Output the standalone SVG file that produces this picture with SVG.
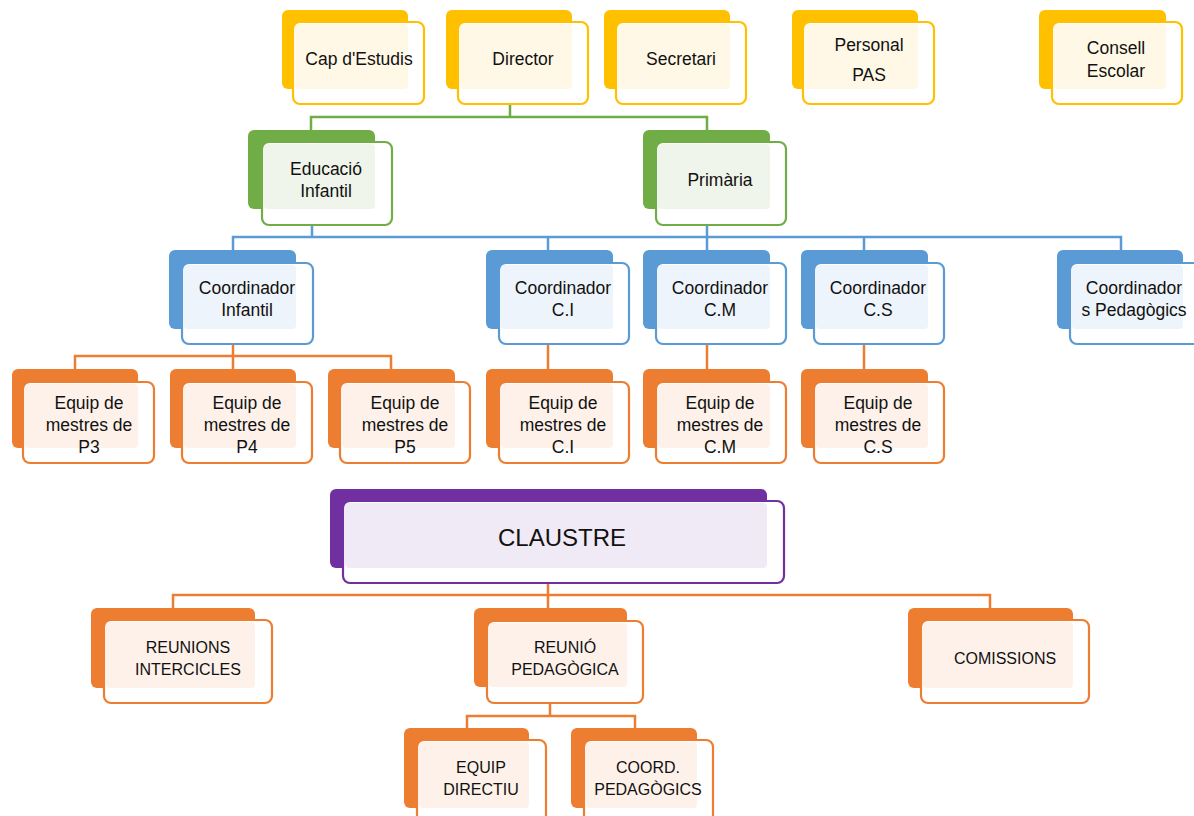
<svg xmlns="http://www.w3.org/2000/svg" width="1194" height="816" viewBox="0 0 1194 816">
<style>
text{font-family:"Liberation Sans",Arial,sans-serif;font-size:17.5px;fill:#111;text-anchor:middle}
.up{font-size:16px}
.big{font-size:24px}
.fr{fill:#fff;stroke-width:2.2}
.y .bk{fill:#FFC000}.y .fr{stroke:#FFC000}.y .tn{fill:#FFF8E6}
.g .bk{fill:#70AD47}.g .fr{stroke:#70AD47}.g .tn{fill:#EFF5EA}
.b .bk{fill:#5B9BD5}.b .fr{stroke:#5B9BD5}.b .tn{fill:#EEF4FB}
.o .bk{fill:#ED7D31}.o .fr{stroke:#ED7D31}.o .tn{fill:#FDF1EA}
.p .bk{fill:#7030A0}.p .fr{stroke:#7030A0}.p .tn{fill:#F0EAF6}
.cg{stroke:#70AD47}.cb{stroke:#5B9BD5}.co{stroke:#ED7D31}
#connectors path{fill:none;stroke-width:2.5}
</style>
<rect width="1194" height="816" fill="#fff"/>
<g id="connectors">
<path class="cg" d="M510 104V117M311 130V117H707V130"/>
<path class="cb" d="M312 225V237M707 225V237M233 250V237H1121V250M548 237V250M707 237V250M864 237V250"/>
<path class="co" d="M233 344V356M75 369V356H391V369M233 356V369M548 344V369M707 344V369M864 344V369"/>
<path class="co" d="M548 583V595M173 608V595H990V608M548 595V608"/>
<path class="co" d="M550 703V716M467 728V716H635V728"/>
</g>
<g id="n-cap" class="y"><rect class="bk" x="282" y="10" width="126" height="79" rx="6"/><rect class="fr" x="293" y="22" width="131" height="82" rx="7"/><rect class="tn" x="295" y="24" width="113" height="65" rx="4"/><text x="359" y="65">Cap d'Estudis</text></g>
<g id="n-director" class="y"><rect class="bk" x="446" y="10" width="126" height="79" rx="6"/><rect class="fr" x="458" y="22" width="130" height="82" rx="7"/><rect class="tn" x="460" y="24" width="112" height="65" rx="4"/><text x="523" y="65">Director</text></g>
<g id="n-secretari" class="y"><rect class="bk" x="604" y="10" width="126" height="79" rx="6"/><rect class="fr" x="616" y="22" width="130" height="82" rx="7"/><rect class="tn" x="618" y="24" width="112" height="65" rx="4"/><text x="681" y="65">Secretari</text></g>
<g id="n-pas" class="y"><rect class="bk" x="792" y="10" width="126" height="79" rx="6"/><rect class="fr" x="803" y="22" width="131" height="82" rx="7"/><rect class="tn" x="805" y="24" width="113" height="65" rx="4"/><text x="869" y="51">Personal</text><text x="869" y="81">PAS</text></g>
<g id="n-consell" class="y"><rect class="bk" x="1039" y="10" width="127" height="79" rx="6"/><rect class="fr" x="1052" y="22" width="130" height="82" rx="7"/><rect class="tn" x="1054" y="24" width="112" height="65" rx="4"/><text x="1116" y="54">Consell</text><text x="1116" y="77">Escolar</text></g>
<g id="n-infantil" class="g"><rect class="bk" x="248" y="130" width="127" height="79" rx="6"/><rect class="fr" x="262" y="142" width="130" height="83" rx="7"/><rect class="tn" x="264" y="144" width="111" height="65" rx="4"/><text x="326" y="175">Educació</text><text x="326" y="197">Infantil</text></g>
<g id="n-primaria" class="g"><rect class="bk" x="643" y="130" width="127" height="79" rx="6"/><rect class="fr" x="656" y="142" width="130" height="83" rx="7"/><rect class="tn" x="658" y="144" width="112" height="65" rx="4"/><text x="720" y="186">Primària</text></g>
<g id="n-coord-inf" class="b"><rect class="bk" x="169" y="250" width="127" height="79" rx="6"/><rect class="fr" x="182" y="263" width="131" height="81" rx="7"/><rect class="tn" x="184" y="265" width="112" height="64" rx="4"/><text x="247" y="294">Coordinador</text><text x="247" y="316">Infantil</text></g>
<g id="n-coord-ci" class="b"><rect class="bk" x="486" y="250" width="127" height="79" rx="6"/><rect class="fr" x="499" y="263" width="130" height="81" rx="7"/><rect class="tn" x="501" y="265" width="112" height="64" rx="4"/><text x="563" y="294">Coordinador</text><text x="563" y="316">C.I</text></g>
<g id="n-coord-cm" class="b"><rect class="bk" x="643" y="250" width="127" height="79" rx="6"/><rect class="fr" x="656" y="263" width="130" height="81" rx="7"/><rect class="tn" x="658" y="265" width="112" height="64" rx="4"/><text x="720" y="294">Coordinador</text><text x="720" y="316">C.M</text></g>
<g id="n-coord-cs" class="b"><rect class="bk" x="801" y="250" width="127" height="79" rx="6"/><rect class="fr" x="814" y="263" width="130" height="81" rx="7"/><rect class="tn" x="816" y="265" width="112" height="64" rx="4"/><text x="878" y="294">Coordinador</text><text x="878" y="316">C.S</text></g>
<g id="n-coord-ped" class="b"><rect class="bk" x="1057" y="250" width="126" height="79" rx="6"/><rect class="fr" x="1070" y="263" width="131" height="81" rx="7"/><rect class="tn" x="1072" y="265" width="111" height="64" rx="4"/><text x="1134" y="294">Coordinador</text><text x="1134" y="316">s Pedagògics</text></g>
<g id="n-p3" class="o"><rect class="bk" x="12" y="369" width="126" height="79" rx="6"/><rect class="fr" x="23" y="382" width="131" height="81" rx="7"/><rect class="tn" x="25" y="384" width="113" height="64" rx="4"/><text x="89" y="409">Equip de</text><text x="89" y="431">mestres de</text><text x="89" y="453">P3</text></g>
<g id="n-p4" class="o"><rect class="bk" x="170" y="369" width="126" height="79" rx="6"/><rect class="fr" x="182" y="382" width="130" height="81" rx="7"/><rect class="tn" x="184" y="384" width="112" height="64" rx="4"/><text x="247" y="409">Equip de</text><text x="247" y="431">mestres de</text><text x="247" y="453">P4</text></g>
<g id="n-p5" class="o"><rect class="bk" x="328" y="369" width="127" height="79" rx="6"/><rect class="fr" x="340" y="382" width="130" height="81" rx="7"/><rect class="tn" x="342" y="384" width="113" height="64" rx="4"/><text x="405" y="409">Equip de</text><text x="405" y="431">mestres de</text><text x="405" y="453">P5</text></g>
<g id="n-eq-ci" class="o"><rect class="bk" x="486" y="369" width="127" height="79" rx="6"/><rect class="fr" x="499" y="382" width="130" height="81" rx="7"/><rect class="tn" x="501" y="384" width="112" height="64" rx="4"/><text x="563" y="409">Equip de</text><text x="563" y="431">mestres de</text><text x="563" y="453">C.I</text></g>
<g id="n-eq-cm" class="o"><rect class="bk" x="643" y="369" width="127" height="79" rx="6"/><rect class="fr" x="656" y="382" width="130" height="81" rx="7"/><rect class="tn" x="658" y="384" width="112" height="64" rx="4"/><text x="720" y="409">Equip de</text><text x="720" y="431">mestres de</text><text x="720" y="453">C.M</text></g>
<g id="n-eq-cs" class="o"><rect class="bk" x="801" y="369" width="127" height="79" rx="6"/><rect class="fr" x="814" y="382" width="130" height="81" rx="7"/><rect class="tn" x="816" y="384" width="112" height="64" rx="4"/><text x="878" y="409">Equip de</text><text x="878" y="431">mestres de</text><text x="878" y="453">C.S</text></g>
<g id="n-claustre" class="p"><rect class="bk" x="330" y="489" width="437" height="79" rx="6"/><rect class="fr" x="343" y="501" width="441" height="82" rx="7"/><rect class="tn" x="345" y="503" width="422" height="65" rx="4"/><text class="big" x="562" y="546">CLAUSTRE</text></g>
<g id="n-intercicles" class="o"><rect class="bk" x="91" y="608" width="164" height="80" rx="6"/><rect class="fr" x="104" y="620" width="168" height="83" rx="7"/><rect class="tn" x="106" y="622" width="149" height="66" rx="4"/><text class="up" x="188" y="653">REUNIONS</text><text class="up" x="188" y="675">INTERCICLES</text></g>
<g id="n-reunio" class="o"><rect class="bk" x="474" y="608" width="153" height="79" rx="6"/><rect class="fr" x="487" y="621" width="156" height="82" rx="7"/><rect class="tn" x="489" y="623" width="138" height="64" rx="4"/><text class="up" x="565" y="653">REUNIÓ</text><text class="up" x="565" y="675">PEDAGÒGICA</text></g>
<g id="n-comissions" class="o"><rect class="bk" x="908" y="608" width="165" height="80" rx="6"/><rect class="fr" x="921" y="620" width="168" height="83" rx="7"/><rect class="tn" x="923" y="622" width="150" height="66" rx="4"/><text class="up" x="1005" y="664">COMISSIONS</text></g>
<g id="n-directiu" class="o"><rect class="bk" x="404" y="728" width="125" height="80" rx="6"/><rect class="fr" x="417" y="740" width="129" height="82" rx="7"/><rect class="tn" x="419" y="742" width="110" height="66" rx="4"/><text class="up" x="481" y="773">EQUIP</text><text class="up" x="481" y="795">DIRECTIU</text></g>
<g id="n-coordped" class="o"><rect class="bk" x="571" y="728" width="126" height="80" rx="6"/><rect class="fr" x="584" y="740" width="129" height="82" rx="7"/><rect class="tn" x="586" y="742" width="111" height="66" rx="4"/><text class="up" x="648" y="773">COORD.</text><text class="up" x="648" y="795">PEDAGÒGICS</text></g>
</svg>
